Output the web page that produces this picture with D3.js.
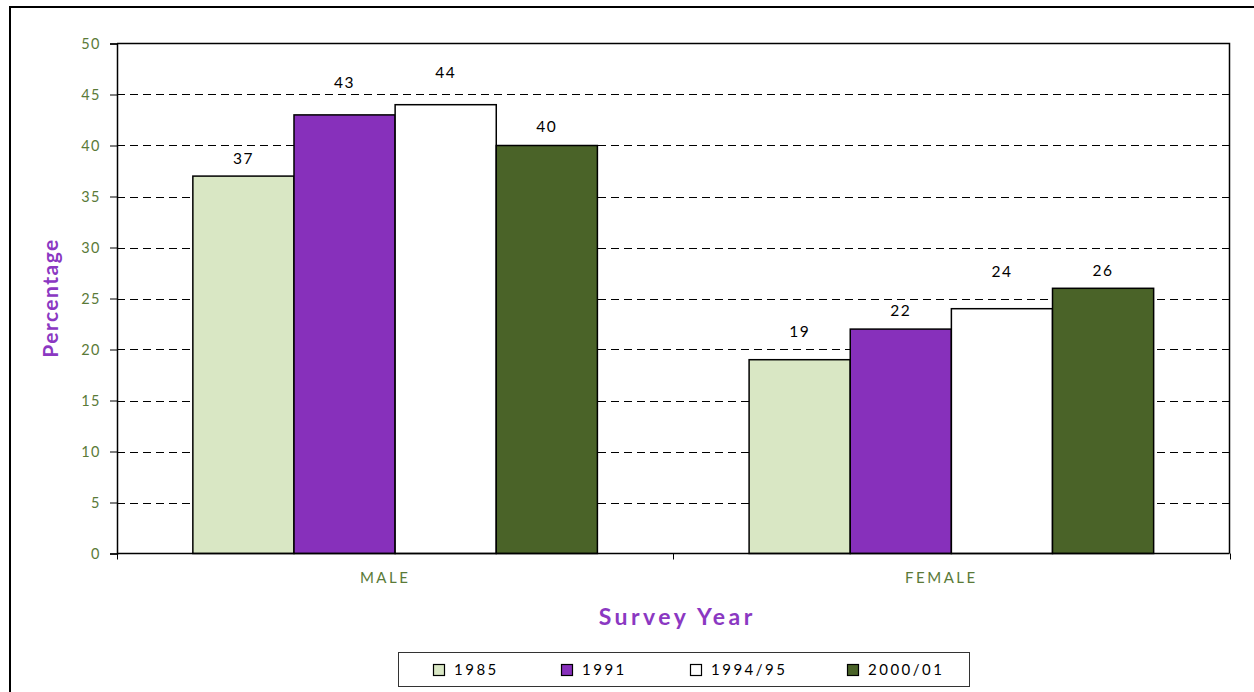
<!DOCTYPE html>
<html>
<head>
<meta charset="utf-8">
<script src="https://cdn.jsdelivr.net/npm/d3@7/dist/d3.min.js"></script>
<style>
  html, body { margin: 0; padding: 0; background: #fff; }
  svg { display: block; }
  text { font-family: Lato, "Open Sans", sans-serif; }
</style>
</head>
<body>
<svg id="chart" width="1254" height="692"></svg>
<script>
// Share of respondents by sex across four survey years
const groups = ["MALE", "FEMALE"];
const series = ["1985", "1991", "1994/95", "2000/01"];
const male   = [37, 43, 44, 40];
const female = [19, 22, 24, 26];
const yTicks = [0, 5, 10, 15, 20, 25, 30, 35, 40, 45, 50];

const colors = ["#d9e7c4", "#8730bb", "#ffffff", "#4a6328"];
const tickGreen = "#5a7a38";
const titlePurple = "#8b38c2";

const rows = groups.map((g, i) => ({
  group: g,
  values: series.map((s, j) => ({ series: s, value: (i === 0 ? male : female)[j] }))
}));

const svg = d3.select("#chart");

// outer frame
svg.append("rect")
  .attr("x", 10).attr("y", 7).attr("width", 1300).attr("height", 720)
  .attr("fill", "none").attr("stroke", "#000").attr("stroke-width", 2);

const plot = { left: 117, top: 43.5, right: 1229.5, bottom: 553.5 };

const x0 = d3.scaleBand().domain(groups).range([plot.left, plot.right]).padding(0);
const x1 = d3.scaleBand().domain(series).range([0, x0.bandwidth()]).paddingInner(0).paddingOuter(0.75);
const y = d3.scaleLinear().domain([0, 50]).range([plot.bottom, plot.top]);

// dashed gridlines
svg.append("g").selectAll("line")
  .data(yTicks.filter(t => t > 0 && t < 50))
  .join("line")
  .attr("x1", plot.left).attr("x2", plot.right)
  .attr("y1", d => Math.round(y(d)) + 0.5).attr("y2", d => Math.round(y(d)) + 0.5)
  .attr("stroke", "#000").attr("stroke-width", 1)
  .attr("stroke-dasharray", "8,5");

// plot frame top and right
svg.append("path")
  .attr("d", `M${plot.left},${plot.top}H${plot.right}V${plot.bottom}`)
  .attr("fill", "none").attr("stroke", "#000").attr("stroke-width", 1.5);

// y axis
const yAxis = d3.axisLeft(y).tickValues(yTicks).tickSize(7).tickPadding(10);
const gy = svg.append("g").attr("transform", `translate(${plot.left},0)`).call(yAxis);
gy.select(".domain").attr("stroke", "#000").attr("stroke-width", 1.5);
gy.selectAll(".tick line").attr("stroke", "#000").attr("stroke-width", 1);
gy.selectAll(".tick text")
  .attr("fill", tickGreen).style("font-size", "14.5px").style("letter-spacing", "1.5px")
  .attr("x", -16);

// bars
const gBars = svg.append("g").selectAll("g")
  .data(rows)
  .join("g")
  .attr("transform", d => `translate(${x0(d.group)},0)`);

gBars.selectAll("rect")
  .data(d => d.values)
  .join("rect")
  .attr("x", d => x1(d.series))
  .attr("y", d => y(d.value))
  .attr("width", x1.bandwidth())
  .attr("height", d => y(0) - y(d.value))
  .attr("fill", (d, i) => colors[i])
  .attr("stroke", "#000").attr("stroke-width", 1.5);

// value labels, lifted a little further where neighbours crowd them
const labelLift = { "MALE": [18, 32, 32, 19], "FEMALE": [28, 19, 37, 18] };
gBars.each(function (row) {
  d3.select(this).selectAll("text.val")
    .data(row.values)
    .join("text")
    .attr("class", "val")
    .attr("x", d => x1(d.series) + x1.bandwidth() / 2)
    .attr("y", (d, i) => y(d.value) - labelLift[row.group][i])
    .attr("dy", "0.35em")
    .attr("text-anchor", "middle")
    .style("font-size", "15.5px").style("letter-spacing", "1.5px")
    .attr("fill", "#000")
    .text(d => d.value);
});

// x axis line and category separators
svg.append("line")
  .attr("x1", plot.left).attr("x2", plot.right)
  .attr("y1", plot.bottom).attr("y2", plot.bottom)
  .attr("stroke", "#000").attr("stroke-width", 1.5);
const xTickPos = groups.map(g => x0(g)).concat([x0.range()[1]]);
svg.append("g").selectAll("line")
  .data(xTickPos)
  .join("line")
  .attr("x1", d => Math.round(d) + 0.5).attr("x2", d => Math.round(d) + 0.5)
  .attr("y1", plot.bottom).attr("y2", plot.bottom + 6)
  .attr("stroke", "#000").attr("stroke-width", 1);

svg.append("g").selectAll("text")
  .data(groups)
  .join("text")
  .attr("x", d => x0(d) + x0.bandwidth() / 2 - 10)
  .attr("y", 578)
  .attr("dy", "0.35em")
  .attr("text-anchor", "middle")
  .attr("fill", tickGreen)
  .style("font-size", "15px").style("letter-spacing", "2.5px")
  .text(d => d);

// axis titles
svg.append("text")
  .attr("x", (plot.left + plot.right) / 2 + 4)
  .attr("y", 617)
  .attr("dy", "0.35em")
  .attr("text-anchor", "middle")
  .attr("fill", titlePurple)
  .style("font-size", "23px").style("font-weight", "bold").style("letter-spacing", "3.5px")
  .text("Survey Year");

svg.append("text")
  .attr("transform", "translate(51,298) rotate(-90)")
  .attr("dy", "0.35em")
  .attr("text-anchor", "middle")
  .attr("fill", titlePurple)
  .style("font-size", "21px").style("font-weight", "bold").style("letter-spacing", "1.5px")
  .text("Percentage");

// legend
const legend = svg.append("g");
legend.append("rect")
  .attr("x", 398.5).attr("y", 652.5).attr("width", 571).attr("height", 34)
  .attr("fill", "#fff").attr("stroke", "#333").attr("stroke-width", 1);
const legendX = { "1985": 433, "1991": 561, "1994/95": 690, "2000/01": 847 };
const li = legend.selectAll("g.item")
  .data(series)
  .join("g")
  .attr("class", "item")
  .attr("transform", d => `translate(${legendX[d]},0)`);
li.append("rect")
  .attr("x", 0.5).attr("y", 664.5).attr("width", 11).attr("height", 11)
  .attr("fill", (d, i) => colors[i])
  .attr("stroke", "#000").attr("stroke-width", 1.2);
li.append("text")
  .attr("x", 21).attr("y", 670)
  .attr("dy", "0.35em")
  .attr("fill", "#000")
  .style("font-size", "15px").style("letter-spacing", "2.5px")
  .text(d => d);
</script>
</body>
</html>
